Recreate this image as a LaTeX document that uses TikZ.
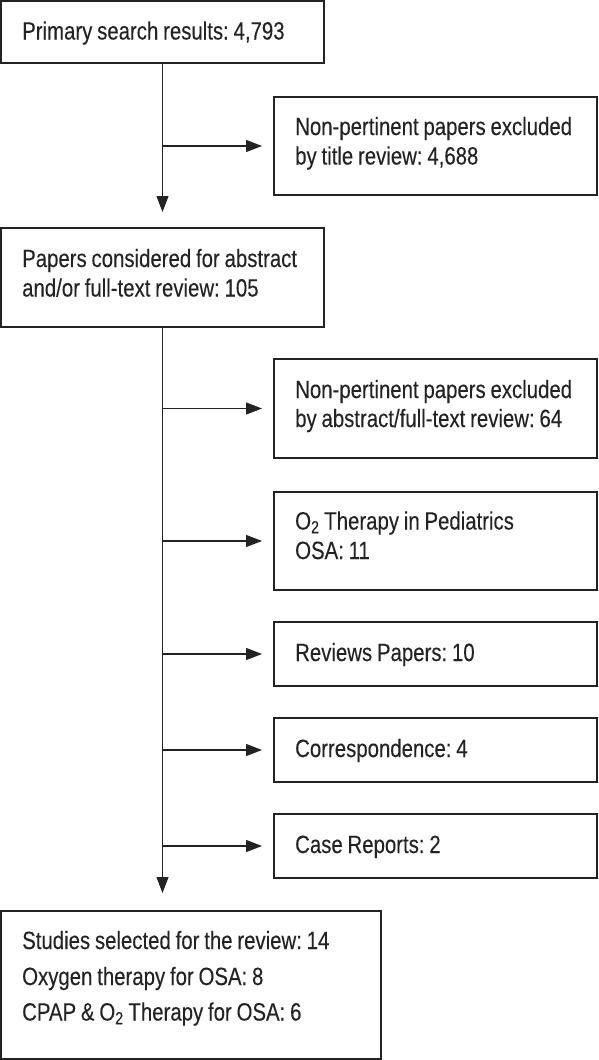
\documentclass[tikz,border=0pt]{standalone}
\usepackage{fontspec}
\setmainfont[FakeStretch=0.815,FakeBold=0.15,WordSpace=0.85]{Liberation Sans}
\usetikzlibrary{arrows.meta,calc}
\definecolor{ink}{RGB}{35,35,35}
\frenchspacing
\newcommand{\Osub}{O\textsubscript{2}}
\begin{document}
\begin{tikzpicture}[x=1pt,y=-1pt,
  box/.style={draw=ink,line width=1.3pt,rectangle,inner sep=0pt,outer sep=0pt},
  lbox/.style={box,minimum width=323pt},
  rbox/.style={box,minimum width=323pt},
  txt/.style={anchor=base west,inner sep=0pt,text=ink,font=\fontsize{25}{30}\selectfont\frenchspacing},
  arr/.style={draw=ink,line width=1.1pt,-{Triangle[length=16pt,width=12pt]}}]
\useasboundingbox (0,0) rectangle (598,1060);
% boxes
\node[lbox,minimum height=62pt] (b1) at (162.5,32) {};
\node[rbox,minimum height=98pt] (e1) at (435.5,146) {};
\node[lbox,minimum height=99pt] (b2) at (162.5,277.5) {};
\node[rbox,minimum height=99pt] (e2) at (435.5,408.5) {};
\node[rbox,minimum height=98pt] (e3) at (435.5,541) {};
\node[rbox,minimum height=64pt] (e4) at (435.5,654) {};
\node[rbox,minimum height=64pt] (e5) at (435.5,750) {};
\node[rbox,minimum height=64pt] (e6) at (435.5,846) {};
\node[box,minimum width=380pt,minimum height=148pt] (b3) at (191,985) {};
% texts
\node[txt] (t1) at ($(b1.north west)+(21,38.5)$) {Primary search results: 4,793};
\node[txt] (t2a) at ($(e1.north west)+(21,38)$) {Non-pertinent papers excluded};
\node[txt] (t2b) at ($(e1.north west)+(21,67.5)$) {by title review: 4,688};
\node[txt] (t3a) at ($(b2.north west)+(21,39)$) {Papers considered for abstract};
\node[txt] (t3b) at ($(b2.north west)+(21,68.5)$) {and/or full-text review: 105};
\node[txt] (t4a) at ($(e2.north west)+(21,39)$) {Non-pertinent papers excluded};
\node[txt] (t4b) at ($(e2.north west)+(21,68)$) {by abstract/full-text review: 64};
\node[txt] (t5a) at ($(e3.north west)+(21,37.5)$) {\Osub\ Therapy in Pediatrics};
\node[txt] (t5b) at ($(e3.north west)+(21,67)$) {OSA: 11};
\node[txt] (t6) at ($(e4.north west)+(21,39)$) {Reviews Papers: 10};
\node[txt] (t7) at ($(e5.north west)+(21,39)$) {Correspondence: 4};
\node[txt] (t8) at ($(e6.north west)+(21,39)$) {Case Reports: 2};
\node[txt] (t9a) at ($(b3.north west)+(21,38)$) {Studies selected for the review: 14};
\node[txt] (t9b) at ($(b3.north west)+(21,74)$) {Oxygen therapy for OSA: 8};
\node[txt] (t9c) at ($(b3.north west)+(21,109.5)$) {CPAP \& \Osub\ Therapy for OSA: 6};
% connectors
\draw[arr,shorten >=16pt] (b1.south) -- (b2.north);
\draw[arr,shorten >=12pt] (b1.south |- e1.west) -- (e1.west);
\draw[arr,shorten >=18pt] (b2.south) -- (b2.south |- b3.north);
\foreach \e in {e2,e3,e4,e5,e6}
  \draw[arr,shorten >=12pt] (b2.south |- \e.west) -- (\e.west);
\end{tikzpicture}
\end{document}
